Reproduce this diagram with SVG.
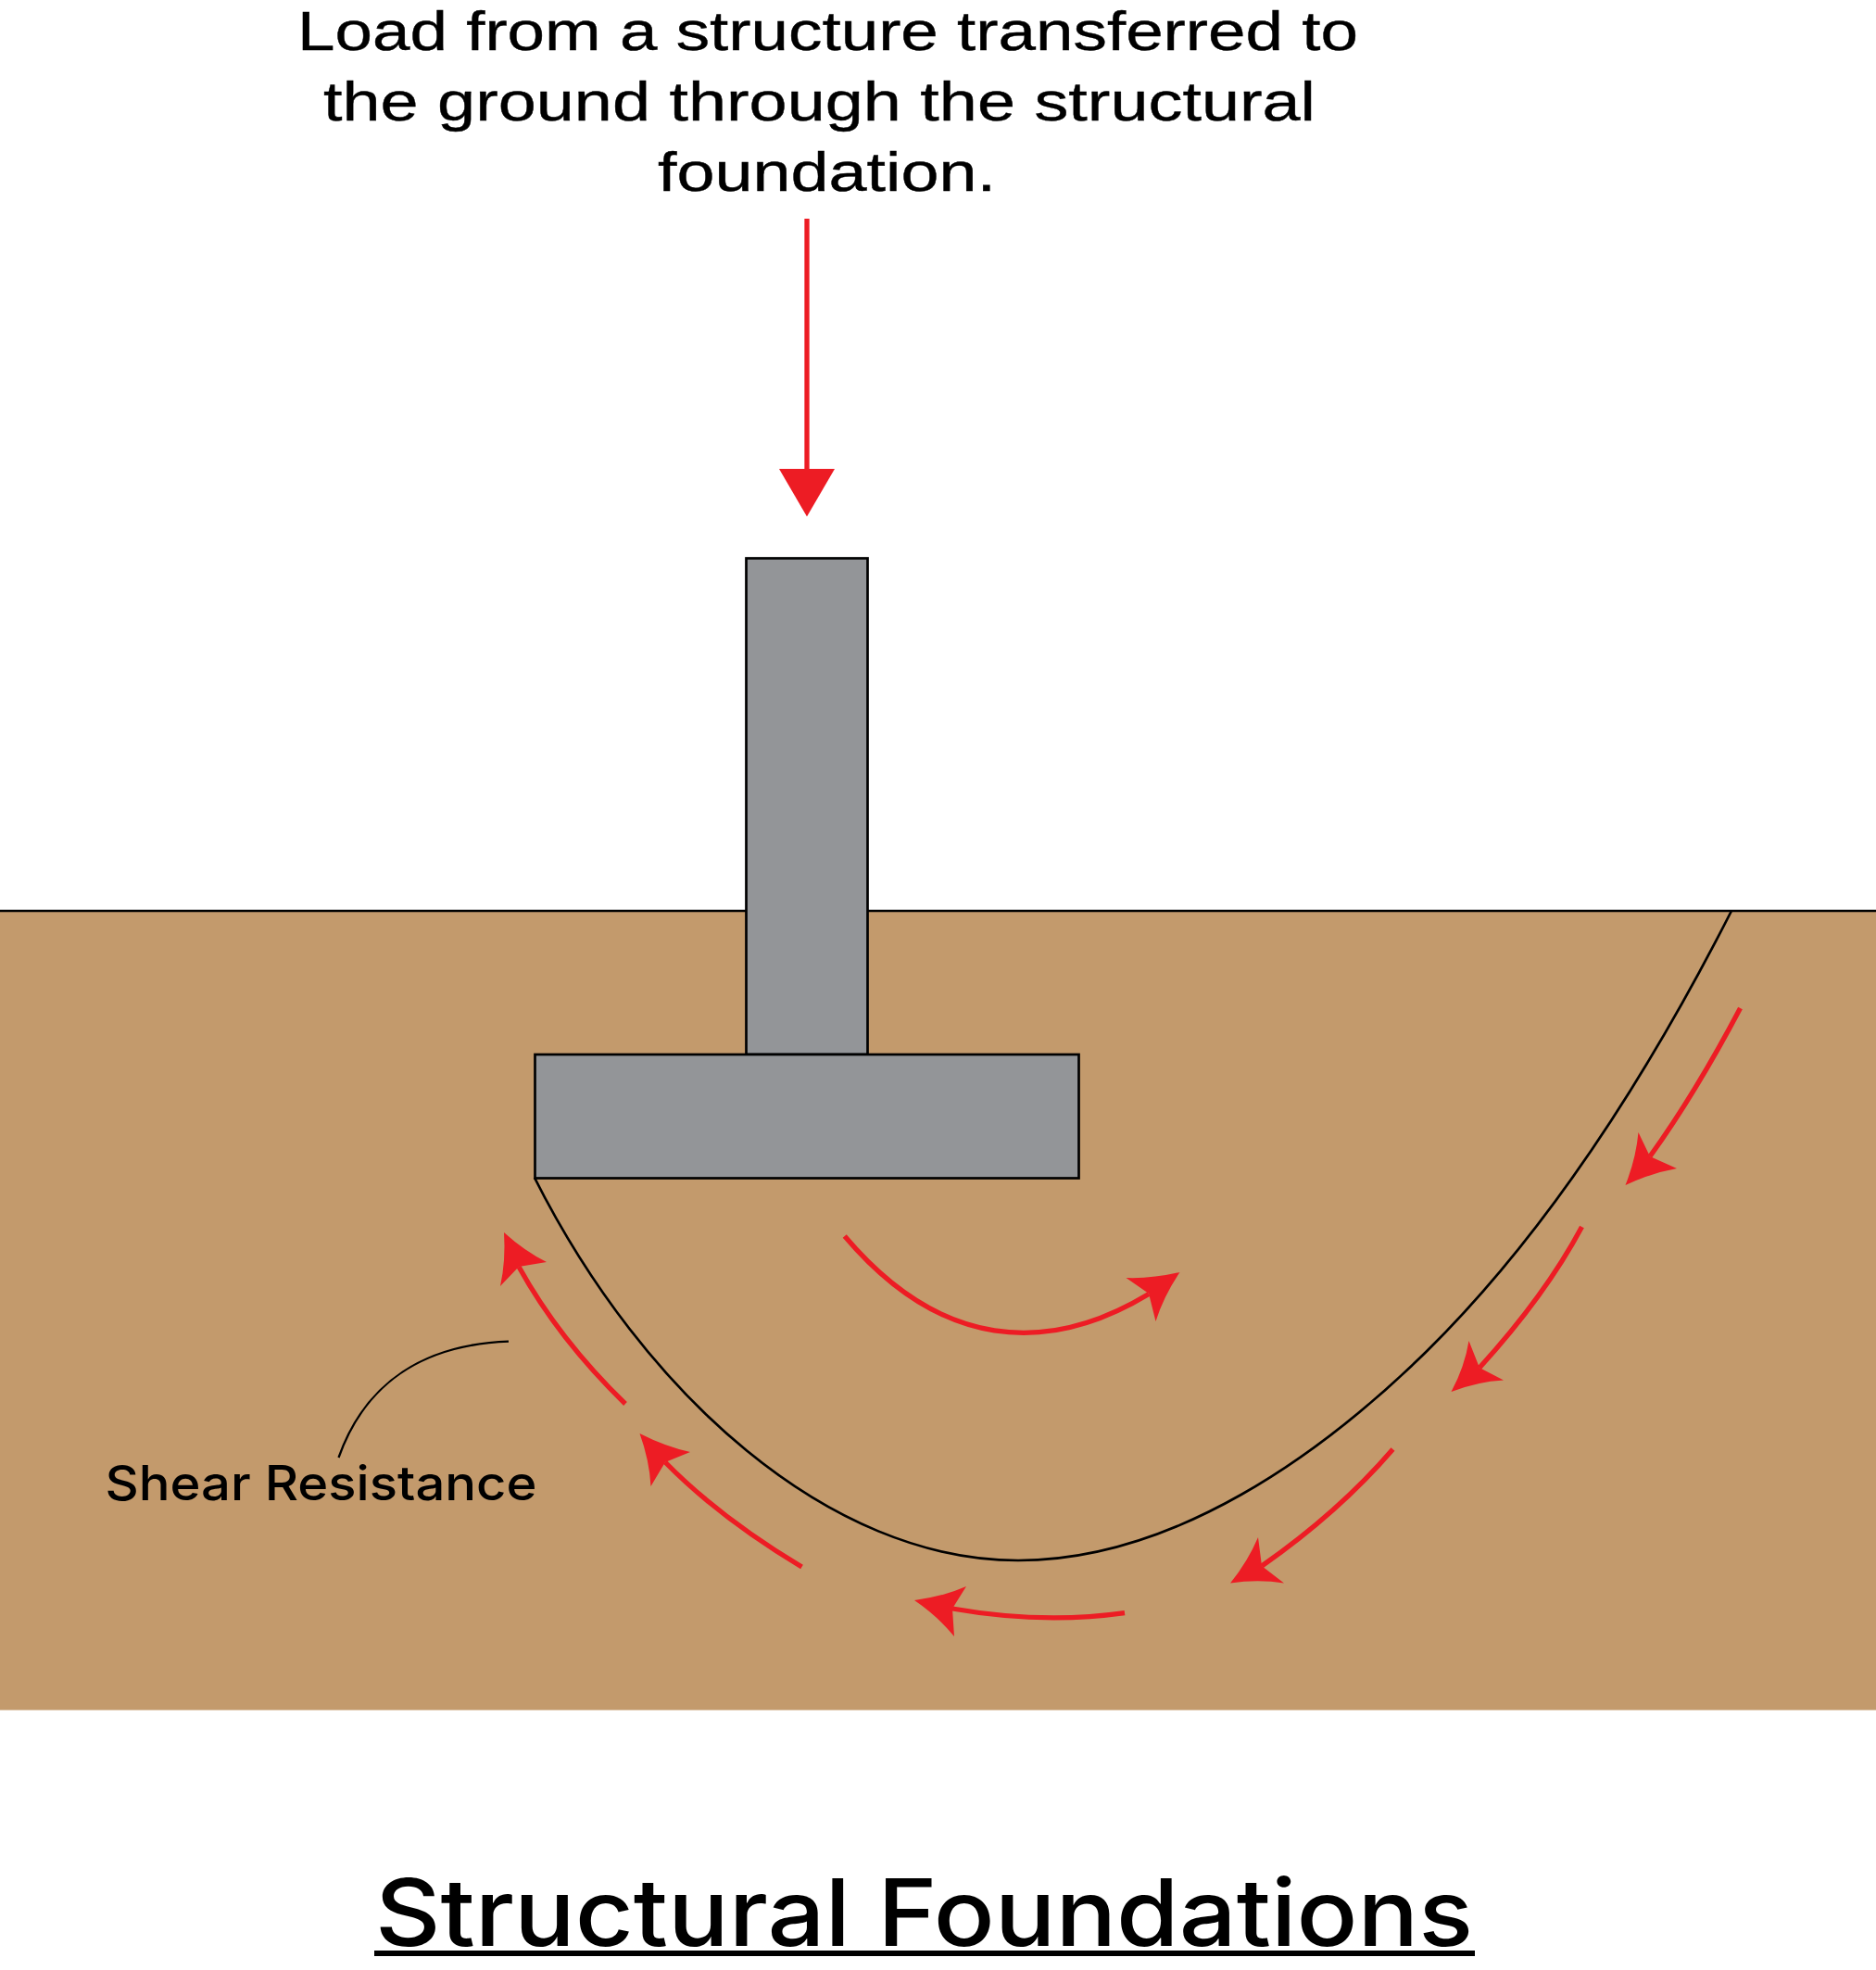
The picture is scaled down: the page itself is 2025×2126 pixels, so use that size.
<svg xmlns="http://www.w3.org/2000/svg" width="2025" height="2126" viewBox="0 0 2025 2126">
<style>
.t{font-family:Inter,"Noto Sans","Liberation Sans",sans-serif;fill:#000;font-weight:500}
.l{font-family:"Liberation Sans",Arial,sans-serif;fill:#000;stroke:#000;stroke-width:.4}
.concrete{fill:#939598;stroke:#000;stroke-width:2.7}
.ln{fill:none;stroke:#000;stroke-width:2.7}
.r{fill:none;stroke:#ED1C24;stroke-width:5.3}
.h{fill:#ED1C24;stroke:none}
</style>
<rect width="2025" height="2126" fill="#fff"/>
<g id="ground">
<rect x="0" y="983" width="2025" height="862.500" fill="#C39A6C"/>
<line x1="0" y1="983" x2="2025" y2="983" stroke="#000" stroke-width="2.7"/>
</g>
<g id="failure-surface">
<path class="ln" d="M577,1271 C695,1505 895,1684 1099,1684 C1267,1684 1426,1570 1540,1458.300 C1675,1325 1783,1152 1869,983"/>
</g>
<g id="column"><rect class="concrete" x="805.500" y="602.500" width="131" height="535.500"/></g>
<g id="footing"><rect class="concrete" x="577.500" y="1138" width="587" height="133.500"/></g>
<g id="connectors">
<line x1="871" y1="236" x2="871" y2="510" stroke="#ED1C24" stroke-width="5.300"/>
<polygon class="h" points="841,506 901,506 871,557.500"/>
<path class="r" d="M1878.500,1088 Q1830,1180 1781,1248"/>
<path class="h" d="M1754.500,1279 Q1766,1250 1768.500,1222 L1781,1248 L1810,1261 Q1782,1266 1754.500,1279Z"/>
<path class="r" d="M1707.500,1324 Q1668,1398 1597,1476"/>
<path class="h" d="M1566.500,1502 Q1581,1475 1585.500,1447 L1597,1476 L1623,1489.500 Q1595,1491 1566.500,1502Z"/>
<path class="r" d="M1503.500,1564 Q1445,1632 1362,1690"/>
<path class="h" d="M1328,1708.500 Q1347,1685 1358,1659 L1362,1690 L1386,1708.500 Q1358,1704 1328,1708.500Z"/>
<path class="r" d="M1214,1740.600 Q1125,1753 1028,1736"/>
<path class="h" d="M987,1727 Q1018,1723 1043,1712 L1028,1736 L1030,1766 Q1012,1744 987,1727Z"/>
<path class="r" d="M911.700,1334 C1015,1456 1130,1463 1240,1396.500"/>
<path class="h" d="M1273.500,1373 Q1244,1380 1215.500,1379 L1240,1396 L1247.500,1426 Q1256,1399 1273.500,1373Z"/>
<path class="r" d="M675,1515 Q603,1445 560,1367"/>
<path class="h" d="M544,1330 Q566,1350 590,1362 L560,1367 L540,1388 Q546,1361 544,1330Z"/>
<path class="r" d="M865.500,1691 Q777,1638 718,1578"/>
<path class="h" d="M690.500,1547 Q718,1561 745,1567 L718,1578 L702.500,1604 Q701,1576 690.500,1547Z"/>
<path class="ln" style="stroke-width:2.300" d="M549,1447.600 C460,1451 395,1490 365.500,1573"/>
</g>
<g id="load-label" class="l" font-size="59">
<text x="321" y="54" textLength="1145" lengthAdjust="spacingAndGlyphs">Load from a structure transferred to</text>
<text x="349" y="130" textLength="1071" lengthAdjust="spacingAndGlyphs">the ground through the structural</text>
<text x="710" y="206" textLength="365" lengthAdjust="spacingAndGlyphs">foundation.</text>
</g>
<g id="shear-label" class="t" font-size="52">
<text x="113.500" y="1619" textLength="466" lengthAdjust="spacingAndGlyphs">Shear Resistance</text>
</g>
<g id="title" class="t" font-size="100">
<text x="405" y="2100" textLength="1185" lengthAdjust="spacingAndGlyphs">Structural Foundations</text>
<rect x="404" y="2105" width="1188" height="6"/>
</g>
</svg>
